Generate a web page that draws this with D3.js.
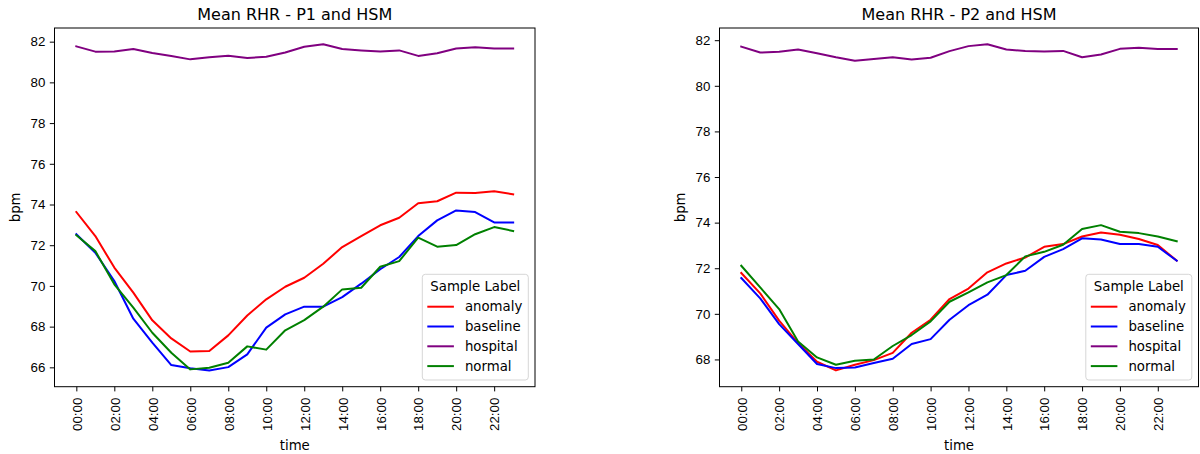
<!DOCTYPE html>
<html>
<head>
<meta charset="utf-8">
<title>Mean RHR</title>
<script src="https://cdn.jsdelivr.net/npm/d3@7"></script>
<style>
  body { margin: 0; background: #fff; }
  svg { display: block; font-family: "DejaVu Sans", sans-serif; }
  .tick text { font-size: 13.3px; fill: #000; }
  .tick line, .domain { stroke: #000; }
</style>
</head>
<body>
<svg id="chart" width="1200" height="454"></svg>
<script>
// hours of the day (x values)
var hours = d3.range(0, 24);
var xTickValues = [0, 2, 4, 6, 8, 10, 12, 14, 16, 18, 20, 22];
var xTickLabels = ["00:00", "02:00", "04:00", "06:00", "08:00", "10:00",
                   "12:00", "14:00", "16:00", "18:00", "20:00", "22:00"];

var labels = ["anomaly", "baseline", "hospital", "normal"];
var colors = ["red", "blue", "purple", "green"];

// panel 1 - P1 and HSM
var p1Anomaly  = [73.63, 72.45, 70.90, 69.67, 68.31, 67.42, 66.78, 66.80, 67.57, 68.55, 69.34, 69.96,
                  70.40, 71.09, 71.91, 72.45, 72.98, 73.35, 74.06, 74.16, 74.58, 74.56, 74.65, 74.50];
var p1Baseline = [72.54, 71.63, 70.24, 68.39, 67.21, 66.11, 65.95, 65.85, 66.01, 66.64, 67.95, 68.60,
                  68.98, 68.98, 69.45, 70.11, 70.82, 71.42, 72.45, 73.22, 73.71, 73.63, 73.12, 73.12];
var p1Hospital = [81.77, 81.51, 81.52, 81.64, 81.44, 81.30, 81.13, 81.23, 81.31, 81.20, 81.26, 81.47,
                  81.75, 81.87, 81.64, 81.57, 81.52, 81.57, 81.30, 81.43, 81.66, 81.72, 81.66, 81.66];
var p1Normal   = [72.49, 71.71, 70.08, 68.93, 67.70, 66.72, 65.90, 65.98, 66.23, 67.03, 66.87, 67.82,
                  68.32, 68.98, 69.83, 69.91, 70.94, 71.22, 72.37, 71.93, 72.01, 72.54, 72.89, 72.70];
var p1YTicks = [66, 68, 70, 72, 74, 76, 78, 80, 82];

// panel 2 - P2 and HSM
var p2Anomaly  = [71.79, 70.90, 69.70, 68.72, 67.90, 67.52, 67.77, 67.97, 68.29, 69.17, 69.74, 70.65,
                  71.11, 71.82, 72.21, 72.47, 72.94, 73.06, 73.39, 73.57, 73.47, 73.28, 73.02, 72.33];
var p2Baseline = [71.57, 70.68, 69.55, 68.68, 67.80, 67.62, 67.65, 67.84, 68.03, 68.68, 68.89, 69.74,
                  70.38, 70.84, 71.70, 71.89, 72.50, 72.84, 73.31, 73.26, 73.06, 73.06, 72.94, 72.33];
var p2Hospital = [81.72, 81.46, 81.49, 81.59, 81.43, 81.25, 81.10, 81.18, 81.25, 81.15, 81.23, 81.52,
                  81.74, 81.82, 81.59, 81.53, 81.50, 81.53, 81.25, 81.37, 81.62, 81.67, 81.61, 81.61];
var p2Normal   = [72.11, 71.16, 70.21, 68.79, 68.09, 67.77, 67.94, 68.00, 68.59, 69.07, 69.67, 70.53,
                  70.94, 71.38, 71.70, 72.52, 72.72, 73.03, 73.72, 73.89, 73.60, 73.54, 73.39, 73.18];
var p2YTicks = [68, 70, 72, 74, 76, 78, 80, 82];

var svg = d3.select("#chart");

function drawPanel(left, right, title, series, yTicks) {
  var top = 28, bottom = 386.7;
  var w = right - left, h = bottom - top;
  var g = svg.append("g").attr("transform", "translate(" + left + "," + top + ")");

  // 5% padding like matplotlib
  var xPad = (23 - 0) * 0.05;
  var x = d3.scaleLinear().domain([0 - xPad, 23 + xPad]).range([0, w]);
  var all = d3.merge(series);
  var ext = d3.extent(all), yPad = (ext[1] - ext[0]) * 0.05;
  var y = d3.scaleLinear().domain([ext[0] - yPad, ext[1] + yPad]).range([h, 0]);

  var line = d3.line()
    .x(function (d, i) { return x(hours[i]); })
    .y(function (d) { return y(d); });

  series.forEach(function (s, i) {
    g.append("path")
      .datum(s)
      .attr("d", line)
      .attr("fill", "none")
      .attr("stroke", colors[i])
      .attr("stroke-width", 2)
      .attr("stroke-linejoin", "round")
      .attr("stroke-linecap", "square");
  });

  // axes
  var yAxis = g.append("g")
    .call(d3.axisLeft(y).tickValues(yTicks).tickSize(4.7).tickPadding(4.5).tickFormat(d3.format("d")));
  yAxis.select(".domain").remove();

  var xAxis = g.append("g")
    .attr("transform", "translate(0," + h + ")")
    .call(d3.axisBottom(x).tickValues(xTickValues).tickSize(4.7)
      .tickFormat(function (d, i) { return xTickLabels[i]; }));
  xAxis.select(".domain").remove();
  xAxis.selectAll(".tick text")
    .attr("transform", "rotate(-90)")
    .attr("text-anchor", "end")
    .attr("x", -11)
    .attr("y", 0)
    .attr("dy", "0.36em");

  // frame
  g.append("rect")
    .attr("width", w).attr("height", h)
    .attr("fill", "none")
    .attr("stroke", "#000")
    .attr("stroke-width", 1);

  // title & labels
  g.append("text")
    .attr("x", w / 2).attr("y", -8)
    .attr("text-anchor", "middle")
    .style("font-size", "16px")
    .text(title);

  g.append("text")
    .attr("transform", "translate(-35," + (h / 2) + ") rotate(-90)")
    .attr("text-anchor", "middle")
    .style("font-size", "13.3px")
    .text("bpm");

  g.append("text")
    .attr("x", w / 2).attr("y", 450 - top)
    .attr("text-anchor", "middle")
    .style("font-size", "13.3px")
    .text("time");

  // legend
  var lw = 106, lh = 105.7;
  var lg = g.append("g").attr("transform", "translate(" + (w - 6.7 - lw) + "," + (h - 6.7 - lh) + ")");
  lg.append("rect")
    .attr("width", lw).attr("height", lh)
    .attr("rx", 3).attr("ry", 3)
    .attr("fill", "#fff").attr("fill-opacity", 0.8)
    .attr("stroke", "#ccc").attr("stroke-opacity", 0.8);
  lg.append("text")
    .attr("x", lw / 2).attr("y", 16.5)
    .attr("text-anchor", "middle")
    .style("font-size", "13.3px")
    .text("Sample Label");
  labels.forEach(function (lab, i) {
    var yy = 32.4 + i * 19.8;
    lg.append("line")
      .attr("x1", 5).attr("x2", 31.6)
      .attr("y1", yy).attr("y2", yy)
      .attr("stroke", colors[i]).attr("stroke-width", 2);
    lg.append("text")
      .attr("x", 42.6).attr("y", yy + 4.8)
      .style("font-size", "13.3px")
      .text(lab);
  });
}

drawPanel(54.5, 535, "Mean RHR - P1 and HSM", [p1Anomaly, p1Baseline, p1Hospital, p1Normal], p1YTicks);
drawPanel(719.5, 1198.5, "Mean RHR - P2 and HSM", [p2Anomaly, p2Baseline, p2Hospital, p2Normal], p2YTicks);
</script>
</body>
</html>
